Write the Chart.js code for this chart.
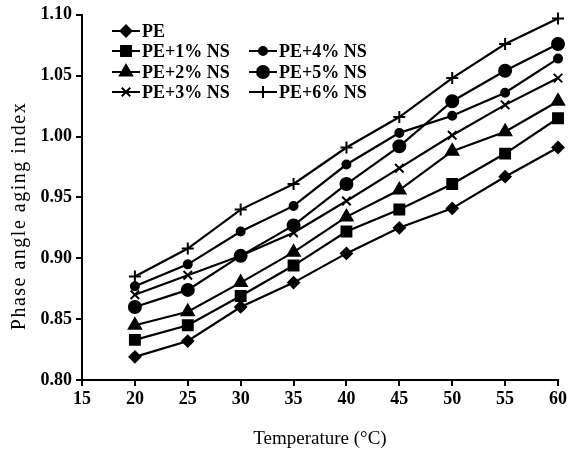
<!DOCTYPE html>
<html>
<head>
<meta charset="utf-8">
<script src="https://cdn.jsdelivr.net/npm/chart.js"></script>
<style>
  html, body { margin: 0; padding: 0; background: #fff; }
  #wrap { width: 574px; height: 453px; position: relative; }
</style>
</head>
<body>
<div id="wrap"><canvas id="chart"></canvas></div>
<script>
// Температура, °C
const temps = [20, 25, 30, 35, 40, 45, 50, 55, 60];

// Индекс старения по фазовому углу
const pe    = [0.819, 0.832, 0.860, 0.880, 0.904, 0.925, 0.941, 0.967, 0.991];
const ns1   = [0.833, 0.845, 0.869, 0.894, 0.922, 0.940, 0.961, 0.986, 1.015];
const ns2   = [0.845, 0.856, 0.880, 0.905, 0.934, 0.956, 0.988, 1.004, 1.029];
const ns3   = [0.870, 0.886, 0.902, 0.921, 0.947, 0.974, 1.001, 1.026, 1.048];
const ns4   = [0.877, 0.895, 0.922, 0.943, 0.977, 1.003, 1.017, 1.036, 1.064];
const ns5   = [0.860, 0.874, 0.902, 0.927, 0.961, 0.992, 1.029, 1.054, 1.076];
const ns6   = [0.885, 0.908, 0.940, 0.961, 0.991, 1.016, 1.048, 1.076, 1.097];

const seriesLabels = ['PE', 'PE+1% NS', 'PE+2% NS', 'PE+3% NS', 'PE+4% NS', 'PE+5% NS', 'PE+6% NS'];
const seriesValues = [pe, ns1, ns2, ns3, ns4, ns5, ns6];

const yTitle = 'Phase angle aging index';
const xTitle = 'Temperature (°C)';

// Маркеры для каждой серии
const markers = [
  { style: 'rectRot', radius: 5.5 },
  { style: 'rect', radius: 7 },
  { style: 'triangle', radius: 7 },
  { style: 'crossRot', radius: 6 },
  { style: 'circle', radius: 4 },
  { style: 'circle', radius: 6 },
  { style: 'cross', radius: 6 },
];

const serif = "'Liberation Serif', 'Times New Roman', serif";

// Расположение легенды: две колонки
const legendSlots = [
  { col: 0, row: 0 }, { col: 0, row: 1 }, { col: 0, row: 2 }, { col: 0, row: 3 },
  { col: 1, row: 1 }, { col: 1, row: 2 }, { col: 1, row: 3 },
];

const legendPlugin = {
  id: 'customLegend',
  afterDraw(chart) {
    const ctx = chart.ctx;
    const colX = [112, 249];
    const rowY = [31, 51, 72, 92];
    const sampleLen = 28;
    ctx.save();
    chart.data.datasets.forEach((ds, i) => {
      const slot = legendSlots[i];
      const x = colX[slot.col];
      const y = rowY[slot.row];
      ctx.strokeStyle = '#000';
      ctx.lineWidth = 2;
      ctx.beginPath();
      ctx.moveTo(x, y);
      ctx.lineTo(x + sampleLen, y);
      ctx.stroke();
      ctx.fillStyle = '#000';
      ctx.lineWidth = ds.pointBorderWidth;
      Chart.helpers.drawPoint(ctx, {
        pointStyle: ds.pointStyle,
        radius: ds.pointRadius,
        rotation: 0,
        borderWidth: ds.pointBorderWidth,
      }, x + sampleLen / 2, y);
      ctx.fillStyle = '#000';
      ctx.font = 'bold 18px ' + serif;
      ctx.textBaseline = 'middle';
      ctx.textAlign = 'left';
      ctx.fillText(ds.label, x + sampleLen + 2, y + 1);
    });
    ctx.restore();
  },
};

// Подпись оси Y рисуем сами: в оригинале она смещена вниз
const yTitlePlugin = {
  id: 'yTitle',
  afterDraw(chart) {
    const ctx = chart.ctx;
    ctx.save();
    ctx.translate(20, 216);
    ctx.rotate(-Math.PI / 2);
    ctx.font = '20px ' + serif;
    if ('letterSpacing' in ctx) ctx.letterSpacing = '1.5px';
    ctx.fillStyle = '#000';
    ctx.textAlign = 'center';
    ctx.textBaseline = 'middle';
    ctx.fillText(yTitle, 0, 0);
    ctx.restore();
  },
};

const ctx = document.getElementById('chart').getContext('2d');
new Chart(ctx, {
  type: 'line',
  data: {
    datasets: seriesLabels.map((label, i) => ({
      label: label,
      data: temps.map((t, j) => ({ x: t, y: seriesValues[i][j] })),
      borderColor: '#000',
      backgroundColor: '#000',
      borderWidth: 2.2,
      pointStyle: markers[i].style,
      pointRadius: markers[i].radius,
      pointBorderWidth: 2,
      pointBorderColor: '#000',
      pointBackgroundColor: '#000',
      tension: 0,
      clip: false,
    })),
  },
  options: {
    animation: false,
    responsive: true,
    maintainAspectRatio: false,
    devicePixelRatio: 1,
    layout: {
      padding: { top: 14, right: 16, bottom: 0, left: 0 },
    },
    plugins: {
      legend: { display: false },
      tooltip: { enabled: false },
    },
    scales: {
      x: {
        type: 'linear',
        min: 15,
        max: 60,
        ticks: {
          stepSize: 5,
          color: '#000',
          padding: 3,
          font: { family: serif, size: 18, weight: 'bold' },
          maxRotation: 0,
        },
        grid: {
          drawOnChartArea: false,
          drawTicks: true,
          tickLength: 6,
          color: '#000',
          lineWidth: 2,
        },
        border: { color: '#000', width: 2 },
        title: {
          display: true,
          text: xTitle,
          color: '#000',
          font: { family: serif, size: 19 },
          padding: { top: 0, bottom: 3 },
        },
        afterFit: (scale) => { scale.height = 73; },
      },
      y: {
        min: 0.8,
        max: 1.1,
        ticks: {
          stepSize: 0.05,
          color: '#000',
          padding: 4,
          font: { family: serif, size: 18, weight: 'bold' },
          callback: (v) => v.toFixed(2),
        },
        grid: {
          drawOnChartArea: false,
          drawTicks: true,
          tickLength: 6,
          color: '#000',
          lineWidth: 2,
        },
        border: { color: '#000', width: 2 },
        title: { display: false },
        afterFit: (scale) => { scale.width = 82; },
      },
    },
  },
  plugins: [legendPlugin, yTitlePlugin],
});
</script>
</body>
</html>
